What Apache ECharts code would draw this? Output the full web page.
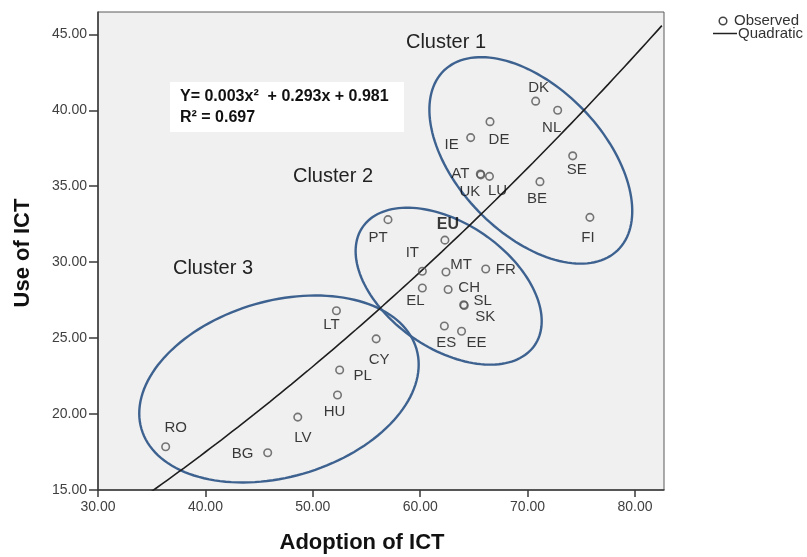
<!DOCTYPE html>
<html>
<head>
<meta charset="utf-8">
<script src="https://cdn.jsdelivr.net/npm/echarts@6/dist/echarts.min.js"></script>
<style>
  html, body { margin: 0; padding: 0; background: #ffffff; }
  #chart { width: 807px; height: 557px; }
</style>
</head>
<body>
<div id="chart"></div>
<script>
// Country codes with their ICT adoption (x) and use (y) scores
const countries = ['RO', 'BG', 'LV', 'HU', 'PL', 'LT', 'CY',
  'PT', 'EU', 'IT', 'MT', 'FR', 'EL', 'CH', 'SL', 'SK', 'ES', 'EE',
  'DK', 'NL', 'DE', 'IE', 'AT', 'UK', 'LU', 'SE', 'BE', 'FI'];
const adoption = [36.3, 45.8, 48.6, 52.3, 52.5, 52.2, 55.9,
  57.0, 62.3, 60.2, 62.4, 66.1, 60.2, 62.6, 64.05, 64.1, 62.25, 63.85,
  70.75, 72.8, 66.5, 64.7, 65.6, 65.65, 66.45, 74.2, 71.15, 75.8];
const useOfICT = [17.85, 17.45, 19.8, 21.25, 22.9, 26.8, 24.95,
  32.8, 31.45, 29.4, 29.35, 29.55, 28.3, 28.2, 27.2, 27.15, 25.8, 25.45,
  40.6, 40.0, 39.25, 38.2, 35.8, 35.75, 35.65, 37.0, 35.3, 32.95];

// Quadratic fit: y = a*x^2 + b*x + c
const quadCoef = [0.003, 0.293, 0.981];
const rSquared = 0.697;

// Axis ticks
const xTicks = [30, 40, 50, 60, 70, 80];
const yTicks = [15, 20, 25, 30, 35, 40, 45];

// Cluster outlines in data units: centre plus two conjugate semi-axes
const clusterOutlines = [
  { name: 'Cluster 1', center: [70.3, 36.7], major: [8.08, -5.92], minor: [-4.89, -3.34] },
  { name: 'Cluster 2', center: [62.65, 28.42], major: [8.01, -3.89], minor: [-3.30, -3.40] },
  { name: 'Cluster 3', center: [46.85, 21.65], major: [12.81, 2.62], minor: [2.27, -5.57] }
];

// Label placement around each marker (pixels)
const labelOffset = {
  RO: [10, -19], BG: [-25, 1], LV: [5, 21], HU: [-3, 17], PL: [23, 6], LT: [-5, 14], CY: [3, 21],
  PT: [-10, 18], EU: [3, -16], IT: [-10, -18], MT: [15, -7], FR: [20, 1], EL: [-7, 13],
  CH: [21, -2], SL: [19, -4], SK: [21, 11], ES: [2, 17], EE: [15, 12],
  DK: [3, -13], NL: [-6, 18], DE: [9, 18], IE: [-19, 7], AT: [-20, 0], UK: [-11, 17],
  LU: [8, 15], SE: [4, 14], BE: [-3, 17], FI: [-2, 21]
};

const xMin = 30, xMax = 82.7, yMin = 15, yMax = 46.47;

const pointData = countries.map((code, i) => ({
  name: code,
  value: [adoption[i], useOfICT[i]],
  label: {
    offset: labelOffset[code],
    fontWeight: code === 'EU' ? 'bold' : 'normal',
    fontSize: code === 'EU' ? 16 : 15
  }
}));

// Fitted curve evaluated from the printed coefficients
const fitData = [];
for (let x = xMin; x <= xMax + 0.001; x += 0.5) {
  fitData.push([x, quadCoef[0] * x * x + quadCoef[1] * x + quadCoef[2]]);
}

const outlineData = clusterOutlines.map(o => [o.center[0], o.center[1], o.major[0], o.major[1], o.minor[0], o.minor[1]]);

const FONT = '"Liberation Sans", Arial, sans-serif';
const chart = echarts.init(document.getElementById('chart'), null, { renderer: 'canvas' });

chart.setOption({
  animation: false,
  backgroundColor: '#ffffff',
  textStyle: { fontFamily: FONT },
  grid: {
    left: 98, right: 143, top: 12, bottom: 67,
    show: true, backgroundColor: '#f0f0f0', borderColor: '#5a5a5a', borderWidth: 1
  },
  xAxis: {
    type: 'value', min: xMin, max: xMax,
    axisLine: { show: true, onZero: false, lineStyle: { color: '#3a3a3a', width: 1.5 } },
    axisTick: { show: true, length: 7, customValues: xTicks, lineStyle: { color: '#3a3a3a', width: 1.5 } },
    axisLabel: { customValues: xTicks, margin: 10, color: '#404040', fontSize: 14, fontFamily: FONT,
      formatter: v => v.toFixed(2) },
    splitLine: { show: false }
  },
  yAxis: {
    type: 'value', min: yMin, max: yMax,
    axisLine: { show: true, onZero: false, lineStyle: { color: '#3a3a3a', width: 1.5 } },
    axisTick: { show: true, length: 9, customValues: yTicks, lineStyle: { color: '#3a3a3a', width: 1.5 } },
    axisLabel: { customValues: yTicks, margin: 11, color: '#404040', fontSize: 14, fontFamily: FONT,
      formatter: v => v.toFixed(2) },
    splitLine: { show: false }
  },
  series: [
    {
      type: 'custom',
      name: 'clusters',
      coordinateSystem: 'cartesian2d',
      silent: true,
      z: 2,
      encode: { x: 0, y: 1 },
      data: outlineData,
      renderItem: function (params, api) {
        const cx = api.value(0), cy = api.value(1);
        const c = api.coord([cx, cy]);
        const pu = api.coord([cx + api.value(2), cy + api.value(3)]);
        const pv = api.coord([cx + api.value(4), cy + api.value(5)]);
        const ux = pu[0] - c[0], uy = pu[1] - c[1];
        const vx = pv[0] - c[0], vy = pv[1] - c[1];
        const pts = [];
        const n = 144;
        for (let k = 0; k < n; k++) {
          const t = k / n * Math.PI * 2;
          pts.push([c[0] + ux * Math.cos(t) + vx * Math.sin(t), c[1] + uy * Math.cos(t) + vy * Math.sin(t)]);
        }
        return {
          type: 'polygon',
          shape: { points: pts },
          style: { fill: 'none', stroke: '#3e6290', lineWidth: 2.4 }
        };
      }
    },
    {
      type: 'line',
      name: 'Quadratic',
      data: fitData,
      showSymbol: false,
      clip: true,
      silent: true,
      z: 3,
      lineStyle: { color: '#1e1e1e', width: 1.6 }
    },
    {
      type: 'scatter',
      name: 'Observed',
      data: pointData,
      symbol: 'circle',
      symbolSize: 7.5,
      z: 4,
      itemStyle: { color: 'rgba(0,0,0,0)', borderColor: '#555555', borderWidth: 1.6 },
      label: {
        show: true,
        position: 'inside',
        formatter: '{b}',
        color: '#0a0a0a',
        fontFamily: FONT
      },
      emphasis: { disabled: true }
    }
  ],
  graphic: [
    // Fit equation box
    { type: 'rect', left: 170, top: 82, shape: { width: 234, height: 50 }, style: { fill: '#ffffff' }, z: 10 },
    { type: 'text', x: 180, y: 97, z: 11,
      style: { text: 'Y= ' + quadCoef[0].toFixed(3) + 'x²  + ' + quadCoef[1].toFixed(3) + 'x + ' + quadCoef[2].toFixed(3),
        font: 'bold 16px ' + FONT, fill: '#111', verticalAlign: 'middle', align: 'left' } },
    { type: 'text', x: 180, y: 118, z: 11,
      style: { text: 'R² = ' + rSquared.toFixed(3), font: 'bold 16px ' + FONT, fill: '#111', verticalAlign: 'middle', align: 'left' } },
    // Cluster names
    { type: 'text', x: 446, y: 42, z: 11, style: { text: 'Cluster 1', font: '20px ' + FONT, fill: '#222', align: 'center', verticalAlign: 'middle' } },
    { type: 'text', x: 333, y: 176, z: 11, style: { text: 'Cluster 2', font: '20px ' + FONT, fill: '#222', align: 'center', verticalAlign: 'middle' } },
    { type: 'text', x: 213, y: 268, z: 11, style: { text: 'Cluster 3', font: '20px ' + FONT, fill: '#222', align: 'center', verticalAlign: 'middle' } },
    // Axis titles
    { type: 'text', x: 362, y: 543, z: 11, style: { text: 'Adoption of ICT', font: 'bold 22px ' + FONT, fill: '#111', align: 'center', verticalAlign: 'middle' } },
    { type: 'text', x: 23, y: 253, rotation: Math.PI / 2, z: 11, style: { text: 'Use of ICT', font: 'bold 22px ' + FONT, fill: '#111', align: 'center', verticalAlign: 'middle' } },
    // Legend
    { type: 'circle', shape: { cx: 723, cy: 21, r: 3.8 }, style: { fill: 'none', stroke: '#444', lineWidth: 1.5 }, z: 11 },
    { type: 'text', x: 734, y: 21, z: 11, style: { text: 'Observed', font: '15px ' + FONT, fill: '#333', align: 'left', verticalAlign: 'middle' } },
    { type: 'line', shape: { x1: 713, y1: 33.5, x2: 737, y2: 33.5 }, style: { stroke: '#222', lineWidth: 1.5 }, z: 11 },
    { type: 'text', x: 738, y: 33.5, z: 11, style: { text: 'Quadratic', font: '15px ' + FONT, fill: '#333', align: 'left', verticalAlign: 'middle' } }
  ]
});
</script>
</body>
</html>
